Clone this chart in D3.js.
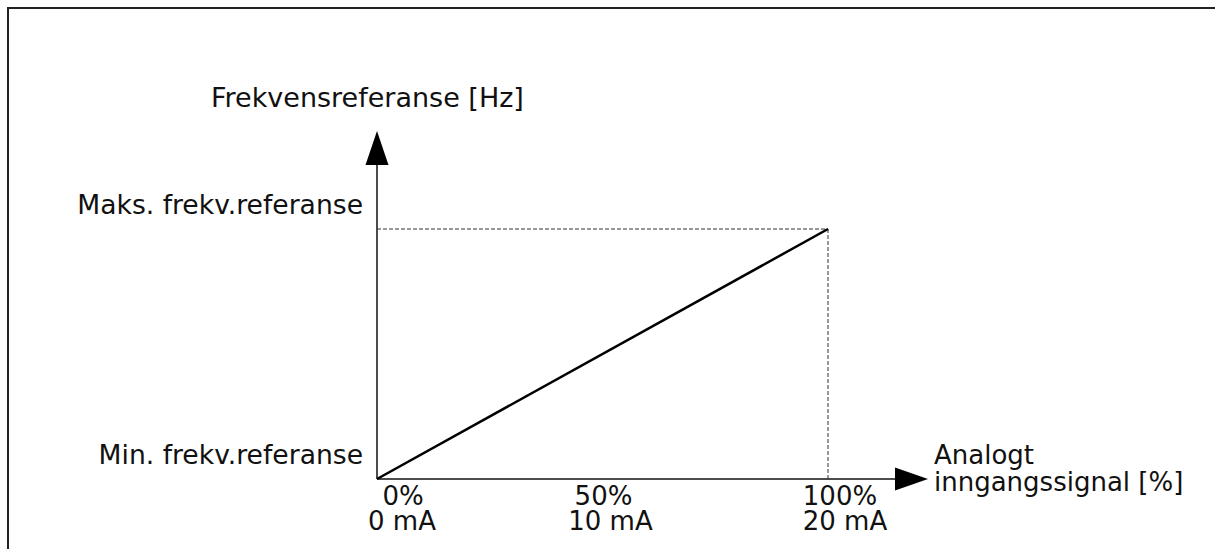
<!DOCTYPE html>
<html>
<head>
<meta charset="utf-8">
<script src="https://cdn.jsdelivr.net/npm/d3@7"></script>
<style>
  html, body { margin: 0; padding: 0; background: #fff; }
  svg { display: block; }
  text { font-family: "DejaVu Sans", Verdana, sans-serif; fill: #111; font-size: 26px; }
</style>
</head>
<body>
<svg id="chart" width="1215" height="549"></svg>
<script>
// Analog input signal (%) vs. frequency reference (0 = min, 1 = max)
const signalPct = [0, 100];
const refLevel = [0, 1];

const xTickValues = [0, 50, 100];
const pctLabels = ["0%", "50%", "100%"];
const mALabels = ["0 mA", "10 mA", "20 mA"];

const yTickValues = [0, 1];
const yTickLabels = ["Min. frekv.referanse", "Maks. frekv.referanse"];

const yTitle = "Frekvensreferanse [Hz]";
const xTitle = ["Analogt", "inngangssignal [%]"];

const svg = d3.select("#chart");
const ink = "#111";

const x = d3.scaleLinear().domain([0, 100]).range([377, 828]);
const y = d3.scaleLinear().domain([0, 1]).range([479, 229]);

// outer frame (top and left edges)
svg.append("path")
  .attr("d", "M8,549 L8,8 L1215,8")
  .attr("fill", "none").attr("stroke", "#222").attr("stroke-width", 2);

// axes with arrowheads
const x0 = x(0), y0 = y(0);
svg.append("line").attr("x1", x0).attr("y1", y0).attr("x2", x0).attr("y2", 160)
  .attr("stroke", ink).attr("stroke-width", 1.5);
svg.append("path").attr("d", `M${x0},131 L${x0 - 11.5},165 L${x0 + 11.5},165 Z`).attr("fill", "#000");

svg.append("line").attr("x1", x0).attr("y1", y0).attr("x2", 900).attr("y2", y0)
  .attr("stroke", ink).attr("stroke-width", 1.5);
svg.append("path").attr("d", `M928,${y0} L895,${y0 - 11.5} L895,${y0 + 11.5} Z`).attr("fill", "#000");

// dashed guides to the maximum point
const xm = x(signalPct[1]), ym = y(refLevel[1]);
svg.append("line").attr("x1", x0).attr("y1", ym).attr("x2", xm).attr("y2", ym)
  .attr("stroke", "#333").attr("stroke-width", 1).attr("stroke-dasharray", "4,2");
svg.append("line").attr("x1", xm).attr("y1", ym).attr("x2", xm).attr("y2", y0)
  .attr("stroke", "#333").attr("stroke-width", 1).attr("stroke-dasharray", "4,2");

// reference curve
const pts = signalPct.map((s, i) => [s, refLevel[i]]);
svg.append("path")
  .datum(pts)
  .attr("d", d3.line().x(d => x(d[0])).y(d => y(d[1])))
  .attr("fill", "none").attr("stroke", "#000").attr("stroke-width", 2.5);

// y level labels
svg.selectAll("text.ylab").data(yTickValues).enter().append("text")
  .attr("class", "ylab")
  .attr("x", x0 - 14).attr("y", d => y(d) - 15)
  .attr("text-anchor", "end")
  .style("font-size", "26.6px")
  .text((d, i) => yTickLabels[i]);

// y axis title
svg.append("text").attr("x", 211).attr("y", 107).style("font-size", "27px").text(yTitle);

// x axis title
svg.append("text").attr("x", 934).attr("y", 464).text(xTitle[0]);
svg.append("text").attr("x", 934).attr("y", 491).text(xTitle[1]);

// x tick labels
const pctShift = [26, 1, 12];
const mAShift = [25, 8, 17];
svg.selectAll("text.pct").data(xTickValues).enter().append("text")
  .attr("class", "pct").attr("text-anchor", "middle")
  .attr("x", (d, i) => x(d) + pctShift[i]).attr("y", 505)
  .text((d, i) => pctLabels[i]);
svg.selectAll("text.ma").data(xTickValues).enter().append("text")
  .attr("class", "ma").attr("text-anchor", "middle")
  .attr("x", (d, i) => x(d) + mAShift[i]).attr("y", 530)
  .text((d, i) => mALabels[i]);
</script>
</body>
</html>
